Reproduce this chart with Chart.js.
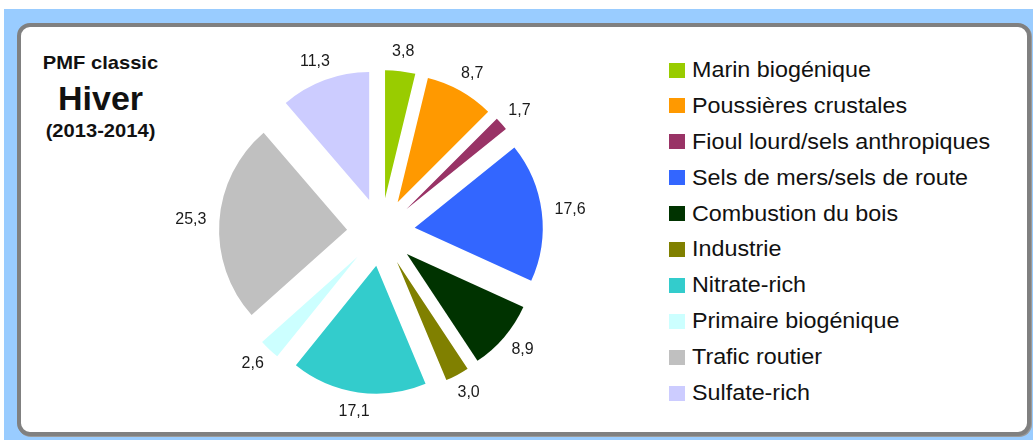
<!DOCTYPE html>
<html>
<head>
<meta charset="utf-8">
<script src="https://cdn.jsdelivr.net/npm/chart.js@4.4.1/dist/chart.umd.min.js"></script>
<style>
  html, body { margin:0; padding:0; width:1033px; height:440px; overflow:hidden; background:#fff; }
  #bg { position:absolute; left:4px; top:9px; width:1029px; height:431px; background:#99ccff; }
  #box { position:absolute; left:17px; top:23px; width:1006px; height:405px; background:#fff;
         border:4px solid #808080; border-radius:13px; box-shadow:1px 1px 0 #9a9a9a; }
  #chartWrap { position:absolute; left:131px; top:24px; width:500px; height:416px; }
  .t { position:absolute; left:0; width:201px; text-align:center; font-family:"Liberation Sans", Arial, sans-serif;
       font-weight:bold; color:#111; white-space:nowrap; }
  .leg { position:absolute; font-family:"Liberation Sans", Arial, sans-serif; font-size:22px; line-height:22px; color:#111;
         white-space:nowrap; transform:scaleX(1.06); transform-origin:0 0; }
  .sq { position:absolute; width:16px; height:15px; }
</style>
</head>
<body>
<div id="bg"></div>
<div id="box"></div>
<div class="t" style="top:53px;font-size:19px;line-height:19px;transform:scaleX(1.06);">PMF classic</div>
<div class="t" style="top:81px;font-size:34px;line-height:34px;">Hiver</div>
<div class="t" style="top:121px;font-size:19px;line-height:19px;transform:scaleX(1.06);">(2013-2014)</div>
<div id="legend"></div>
<div id="chartWrap"><canvas id="c" width="500" height="416"></canvas></div>
<script>
const categories = ["Marin biogénique","Poussières crustales","Fioul lourd/sels anthropiques","Sels de mers/sels de route","Combustion du bois","Industrie","Nitrate-rich","Primaire biogénique","Trafic routier","Sulfate-rich"];
const values = [3.8, 8.7, 1.7, 17.6, 8.9, 3.0, 17.1, 2.6, 25.3, 11.3];
const colors = ["#99cc00","#ff9900","#993366","#3366ff","#003300","#808000","#33cccc","#ccffff","#c0c0c0","#ccccff"];

const explode = 34;

// HTML legend built from the arrays
const legend = document.getElementById('legend');
categories.forEach((name, i) => {
  const y = 62.5 + 35.9 * i;
  const sq = document.createElement('div');
  sq.className = 'sq';
  sq.style.left = '669px'; sq.style.top = y + 'px'; sq.style.background = colors[i];
  legend.appendChild(sq);
  const tx = document.createElement('div');
  tx.className = 'leg';
  tx.style.left = '692px'; tx.style.top = (58.9 + 35.9 * i) + 'px';
  tx.textContent = name;
  legend.appendChild(tx);
});

const fmt = v => v.toFixed(1).replace('.', ',');

// draw each arc element translated outward along its bisector (exploded pie)
const explodePlugin = {
  id: 'explode',
  beforeDatasetDraw(chart, args) {
    const ctx = chart.ctx;
    args.meta.data.forEach(arc => {
      const p = arc.getProps(['startAngle','endAngle'], true);
      const mid = (p.startAngle + p.endAngle) / 2;
      ctx.save();
      ctx.translate(Math.cos(mid) * explode, Math.sin(mid) * explode);
      arc.draw(ctx);
      ctx.restore();
    });
    return false;
  }
};

const outLabels = {
  id: 'outLabels',
  afterDatasetsDraw(chart) {
    const ctx = chart.ctx;
    const meta = chart.getDatasetMeta(0);
    ctx.save();
    ctx.font = '16px "Liberation Sans", Arial, sans-serif';
    ctx.fillStyle = '#1a1a1a';
    ctx.textAlign = 'center';
    ctx.textBaseline = 'middle';
    meta.data.forEach((arc, i) => {
      const p = arc.getProps(['x','y','startAngle','endAngle','outerRadius'], true);
      const mid = (p.startAngle + p.endAngle) / 2;
      const dx = Math.cos(mid), dy = Math.sin(mid);
      const d = p.outerRadius + explode + 13;
      const txt = fmt(values[i]);
      const w = ctx.measureText(txt).width, h = 13;
      ctx.fillText(txt, p.x + dx * d + dx * w / 2, p.y + dy * d + dy * h / 2);
    });
    ctx.restore();
  }
};

new Chart(document.getElementById('c'), {
  type: 'pie',
  data: {
    labels: categories,
    datasets: [{
      data: values,
      backgroundColor: colors,
      borderWidth: 0
    }]
  },
  options: {
    responsive: false,
    animation: false,
    radius: 128,
    layout: { padding: 0 },
    plugins: { legend: { display: false }, title: { display: false }, tooltip: { enabled: false } }
  },
  plugins: [explodePlugin, outLabels]
});
</script>
</body>
</html>
